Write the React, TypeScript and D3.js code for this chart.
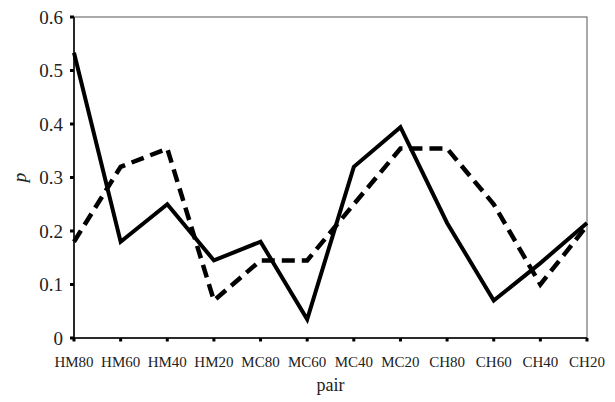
import React from "react";
import * as d3 from "d3";

const pairs = ["HM80", "HM60", "HM40", "HM20", "MC80", "MC60", "MC40", "MC20", "CH80", "CH60", "CH40", "CH20"];
const solidValues = [0.533, 0.18, 0.25, 0.145, 0.18, 0.035, 0.32, 0.394, 0.215, 0.07, 0.14, 0.215];
const dashedValues = [0.18, 0.32, 0.354, 0.07, 0.145, 0.145, 0.25, 0.354, 0.354, 0.25, 0.1, 0.21];
const yTicks = [0, 0.1, 0.2, 0.3, 0.4, 0.5, 0.6];

const width = 615;
const height = 402;
const margin = { top: 17, right: 28, bottom: 64, left: 74 };

export default function App() {
  const x = d3.scalePoint<string>()
    .domain(pairs)
    .range([margin.left, width - margin.right]);

  const y = d3.scaleLinear()
    .domain([0, 0.6])
    .range([height - margin.bottom, margin.top]);

  const line = d3.line<number>()
    .x((d, i) => x(pairs[i]) as number)
    .y(d => y(d));

  const font = "'Liberation Serif', 'Times New Roman', serif";

  return (
    <svg width={width} height={height} style={{ position: "absolute", left: 0, top: 0 }}>
      <rect width={width} height={height} fill="#fff" />
      {/* frame */}
      <rect x={margin.left} y={margin.top}
        width={width - margin.right - margin.left}
        height={height - margin.bottom - margin.top}
        fill="none" stroke="#555" strokeWidth={1} />
      <line x1={margin.left} x2={margin.left} y1={margin.top} y2={y(0)} stroke="#000" strokeWidth={1.5} />
      <line x1={margin.left} x2={width - margin.right} y1={y(0)} y2={y(0)} stroke="#000" strokeWidth={1.5} />

      {/* y axis */}
      {yTicks.map(t => (
        <g key={t}>
          <rect x={margin.left - 4} y={y(t) - 1.5} width={4} height={3} fill="#000" />
          <text x={margin.left - 11} y={y(t)} dy="0.35em" textAnchor="end"
            fontFamily={font} fontSize={19} fill="#222">{t === 0 ? "0" : t.toFixed(1)}</text>
        </g>
      ))}

      {/* x axis */}
      {pairs.map(p => (
        <g key={p}>
          <rect x={(x(p) as number) - 1.5} y={y(0)} width={3} height={3.5} fill="#000" />
          <text x={x(p) as number} y={y(0) + 29} textAnchor="middle"
            fontFamily={font} fontSize={15} fill="#222">{p}</text>
        </g>
      ))}

      <text x={(margin.left + width - margin.right) / 2} y={y(0) + 53} textAnchor="middle"
        fontFamily={font} fontSize={18} fill="#222">pair</text>
      <text transform={`translate(26, ${y(0.3)}) rotate(-90)`} textAnchor="middle"
        fontFamily={font} fontSize={19} fontStyle="italic" fill="#222">p</text>

      {/* series */}
      <path d={line(dashedValues) || ""} fill="none" stroke="#000" strokeWidth={4.5}
        strokeDasharray="13,7" />
      <path d={line(solidValues) || ""} fill="none" stroke="#000" strokeWidth={4}
        strokeLinejoin="miter" />
    </svg>
  );
}
